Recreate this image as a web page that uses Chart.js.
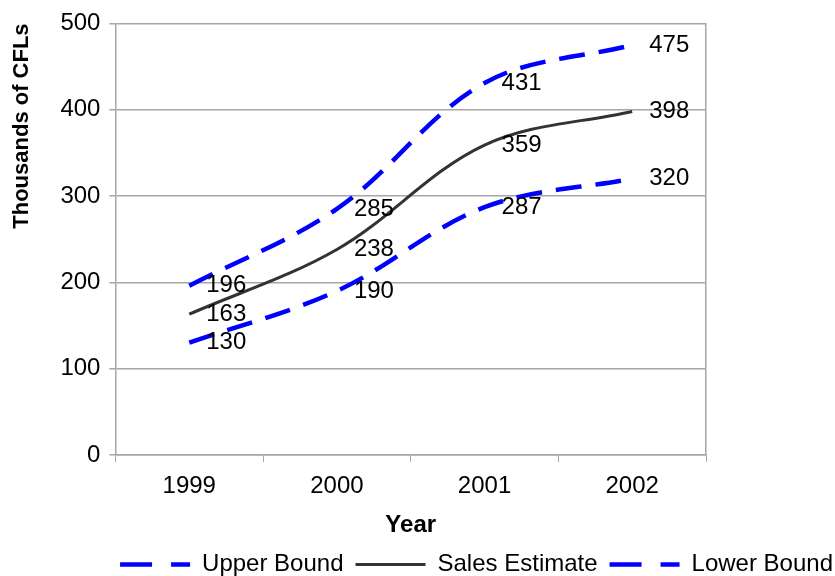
<!DOCTYPE html>
<html>
<head>
<meta charset="utf-8">
<script src="https://cdn.jsdelivr.net/npm/chart.js@4/dist/chart.umd.min.js"></script>
<style>
  html, body { margin: 0; padding: 0; background: #fff; }
  #wrap { width: 835px; height: 576px; }
</style>
</head>
<body>
<div id="wrap"><canvas id="cfl_chart" width="835" height="576"></canvas></div>
<script>
// data
const years = ["1999", "2000", "2001", "2002"]
const upperBound = [196, 285, 431, 475]
const salesEstimate = [163, 238, 359, 398]
const lowerBound = [130, 190, 287, 320]
const yTicks = [0, 100, 200, 300, 400, 500]

const FONT = "'Liberation Sans', Arial, sans-serif"
const GRID = "#a6a6a6"

// draws the value next to every point, like excel data labels
const valueLabels = {
    id: "valueLabels",
    afterDatasetsDraw(chart) {
        const ctx = chart.ctx
        ctx.save()
        ctx.font = "24px " + FONT
        ctx.fillStyle = "#000"
        ctx.textAlign = "left"
        ctx.textBaseline = "middle"
        chart.data.datasets.forEach((ds, i) => {
            chart.getDatasetMeta(i).data.forEach((pt, j) => {
                ctx.fillText(String(ds.data[j]), pt.x + 17, pt.y)
            })
        })
        ctx.restore()
    },
}

// legend samples as lines, keeping the dashes of the series
function legendLabels(chart) {
    const items = Chart.defaults.plugins.legend.labels.generateLabels(chart)
    return items.map((item) => {
        const ds = chart.data.datasets[item.datasetIndex]
        item.lineWidth = ds.borderWidth
        item.strokeStyle = ds.borderColor
        item.lineDash = ds.borderDash ? [32, 19] : []
        item.pointStyle = "line"
        return item
    })
}

function main() {
    new Chart(document.getElementById("cfl_chart"), {
        type: "line",
        data: {
            labels: years,
            datasets: [
                {
                    label: "Upper Bound",
                    data: upperBound,
                    borderColor: "#0000ff",
                    backgroundColor: "#0000ff",
                    borderWidth: 4.5,
                    borderDash: [26, 14],
                    tension: 0.35,
                    pointRadius: 0,
                },
                {
                    label: "Sales Estimate",
                    data: salesEstimate,
                    borderColor: "#333333",
                    backgroundColor: "#333333",
                    borderWidth: 3,
                    tension: 0.35,
                    pointRadius: 0,
                },
                {
                    label: "Lower Bound",
                    data: lowerBound,
                    borderColor: "#0000ff",
                    backgroundColor: "#0000ff",
                    borderWidth: 4.5,
                    borderDash: [26, 14],
                    tension: 0.35,
                    pointRadius: 0,
                },
            ],
        },
        options: {
            responsive: false,
            animation: false,
            layout: {
                padding: { left: 4, right: -10, top: 2, bottom: -10.5 },
            },
            scales: {
                x: {
                    offset: true,
                    grid: {
                        offset: true,
                        drawOnChartArea: false,
                        tickLength: 7,
                        color: GRID,
                    },
                    border: { color: GRID, width: 1.5 },
                    ticks: {
                        padding: 10,
                        color: "#000",
                        font: { family: FONT, size: 24 },
                        maxRotation: 0,
                    },
                    title: {
                        display: true,
                        text: "Year",
                        color: "#000",
                        font: { family: FONT, size: 24, weight: "bold" },
                        padding: { top: 0, bottom: 1 },
                    },
                },
                y: {
                    min: 0,
                    max: 500,
                    afterBuildTicks: (scale) => {
                        scale.ticks = yTicks.map((v) => ({ value: v }))
                    },
                    grid: {
                        color: GRID,
                        tickLength: 6,
                        lineWidth: 1.5,
                    },
                    border: { color: GRID, width: 1.5 },
                    ticks: {
                        padding: 9,
                        color: "#000",
                        font: { family: FONT, size: 24 },
                    },
                    title: {
                        display: true,
                        text: "Thousands of CFLs",
                        align: "end",
                        color: "#000",
                        font: { family: FONT, size: 22, weight: "bold" },
                        padding: { top: 5, bottom: 16 },
                    },
                },
                y2: {
                    position: "right",
                    min: 0,
                    max: 500,
                    ticks: { display: false },
                    grid: { drawOnChartArea: false, drawTicks: false },
                    border: { color: GRID, width: 1.5 },
                    afterFit: (scale) => {
                        scale.width = 139
                    },
                },
            },
            plugins: {
                tooltip: { enabled: false },
                legend: {
                    position: "bottom",
                    align: "end",
                    labels: {
                        usePointStyle: true,
                        pointStyleWidth: 70,
                        padding: 12,
                        color: "#000",
                        font: { family: FONT, size: 24 },
                        generateLabels: legendLabels,
                    },
                },
            },
        },
        plugins: [valueLabels],
    })
}

document.addEventListener("DOMContentLoaded", main())
</script>
</body>
</html>
